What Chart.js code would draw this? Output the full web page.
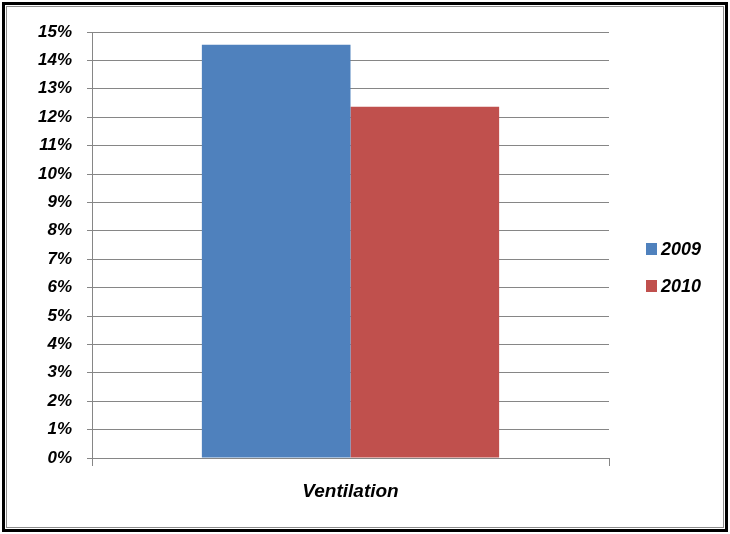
<!DOCTYPE html>
<html>
<head>
<meta charset="utf-8">
<script src="https://cdn.jsdelivr.net/npm/chart.js@4.4.1/dist/chart.umd.min.js"></script>
<style>
    html, body { margin: 0; padding: 0; background: #fff; }
    #wrap { width: 730px; height: 534px; }
</style>
</head>
<body>
<div id="wrap"><canvas id="ventChart" width="730" height="534"></canvas></div>
<script>
// Share of ventilation per year, in percent
const categories = ['Ventilation'];
const years = ['2009', '2010'];
const values2009 = [14.55];
const values2010 = [12.37];
const yTicks = [0, 1, 2, 3, 4, 5, 6, 7, 8, 9, 10, 11, 12, 13, 14, 15];

const colors = ['#4F81BD', '#C0504D'];
const fontFamily = '"Liberation Sans", Arial, sans-serif';
const tickFont = { family: fontFamily, size: 17, weight: 'bold', style: 'italic' };
const catFont = { family: fontFamily, size: 19, weight: 'bold', style: 'italic' };
const gridColor = '#868686';

// white background plus the double frame round the whole picture
const framePlugin = {
    id: 'frame',
    beforeDraw(chart)
    {
        let ctx = chart.ctx;
        let w = chart.width, h = chart.height;
        ctx.save();
        ctx.fillStyle = '#fff';
        ctx.fillRect(0, 0, w, h);
        ctx.strokeStyle = '#000';
        ctx.lineWidth = 3;
        ctx.strokeRect(3.5, 3.5, w - 7, h - 7);
        ctx.strokeStyle = '#8c8c8c';
        ctx.lineWidth = 1;
        ctx.strokeRect(6.5, 6.5, w - 13, h - 13);
        ctx.restore();
    }
};

// legend on the right, built from the datasets
const sideLegend = {
    id: 'sideLegend',
    afterDraw(chart)
    {
        let ctx = chart.ctx;
        ctx.save();
        ctx.font = 'italic bold 18px ' + fontFamily;
        ctx.textBaseline = 'middle';
        chart.data.datasets.forEach(function(ds, i) {
            let y = 249 + i * 37;
            ctx.fillStyle = ds.backgroundColor;
            ctx.fillRect(646, y - 6, 11, 12);
            ctx.fillStyle = '#000';
            ctx.fillText(ds.label, 661, y + 1);
        });
        ctx.restore();
    }
};

new Chart(document.getElementById('ventChart').getContext('2d'), {
    type: 'bar',
    data: {
        labels: categories,
        datasets: [
            { label: years[0], data: values2009, backgroundColor: colors[0] },
            { label: years[1], data: values2010, backgroundColor: colors[1] }
        ]
    },
    options: {
        responsive: false,
        animation: false,
        events: [],
        layout: { padding: { left: 0, top: 32, right: 121, bottom: 26 } },
        datasets: {
            bar: { categoryPercentage: 0.575, barPercentage: 1, borderWidth: 0 }
        },
        plugins: {
            legend: { display: false },
            tooltip: { enabled: false }
        },
        scales: {
            x: {
                afterFit(scale) { scale.height = 50; },
                grid: {
                    offset: true,
                    drawOnChartArea: false,
                    drawTicks: true,
                    tickLength: 8,
                    color: gridColor
                },
                border: { display: true, color: gridColor },
                ticks: { font: catFont, color: '#000', padding: 14 }
            },
            y: {
                min: 0,
                max: 15,
                afterFit(scale) { scale.width = 92; },
                afterBuildTicks(scale) { scale.ticks = yTicks.map(v => ({ value: v })); },
                grid: { color: gridColor, tickLength: 5 },
                border: { display: true, color: gridColor },
                ticks: {
                    font: tickFont,
                    color: '#000',
                    padding: 15,
                    callback: v => v + '%'
                }
            }
        }
    },
    plugins: [framePlugin, sideLegend]
});
</script>
</body>
</html>
